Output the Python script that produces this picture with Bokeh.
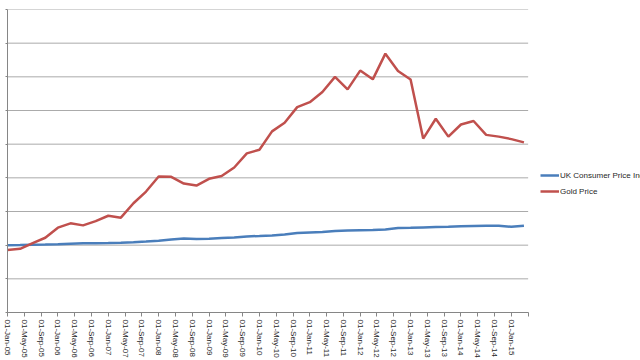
import pandas as pd
from bokeh.plotting import figure
from bokeh.models import Legend, LegendItem, FixedTicker, Range1d, ColumnDataSource
from bokeh.embed import file_html
from bokeh.resources import INLINE

# Quarterly observation dates (Jan-2005 .. Apr-2015)
dates = pd.date_range("2005-01-01", "2015-04-01", freq="QS")

uk_cpi = [100.0, 100.2, 100.7, 101.0, 101.5, 102.2, 102.7, 103.0, 103.3, 103.7,
          104.5, 105.5, 106.7, 108.5, 110.0, 109.0, 109.7, 110.7, 111.5, 113.0,
          113.7, 114.5, 115.7, 118.0, 118.7, 119.4, 121.0, 121.6, 122.0, 122.4,
          123.1, 125.4, 125.8, 126.4, 126.9, 127.3, 128.0, 128.6, 128.8, 128.8,
          127.3, 128.8]

gold = [93.0, 94.5, 103.0, 111.0, 126.0, 132.4, 129.4, 135.8, 143.7, 140.8,
        162.3, 179.6, 202.0, 201.5, 191.5, 188.5, 198.5, 202.6, 215.4, 236.3,
        241.8, 269.0, 281.7, 305.0, 312.4, 327.4, 350.0, 331.4, 359.3, 346.3,
        384.4, 358.7, 346.0, 258.3, 287.7, 261.2, 279.2, 284.4, 263.8, 261.2,
        257.5, 252.7]

tick_labels = ["01-Jan-05", "01-May-05", "01-Sep-05", "01-Jan-06", "01-May-06", "01-Sep-06",
               "01-Jan-07", "01-May-07", "01-Sep-07", "01-Jan-08", "01-May-08", "01-Sep-08",
               "01-Jan-09", "01-May-09", "01-Sep-09", "01-Jan-10", "01-May-10", "01-Sep-10",
               "01-Jan-11", "01-May-11", "01-Sep-11", "01-Jan-12", "01-May-12", "01-Sep-12",
               "01-Jan-13", "01-May-13", "01-Sep-13", "01-Jan-14", "01-May-14", "01-Sep-14",
               "01-Jan-15", ""]

y_ticks = [0, 50, 100, 150, 200, 250, 300, 350, 400, 450]

# month offsets from Jan-2005
months = [(d.year - 2005) * 12 + (d.month - 1) for d in dates]
tick_pos = [4 * k for k in range(len(tick_labels))]
x_end_axis = tick_pos[-1]

src = ColumnDataSource(dict(x=months, cpi=uk_cpi, gold=gold))

FONT = "Liberation Sans"
W, H = 640, 360
BL = 7                               # left border before the y axis
axis_px = 519.0                      # pixel length of the date axis
frame_w = W - BL - 2
x_view_end = x_end_axis * frame_w / axis_px

p = figure(width=W, height=H, output_backend="svg", toolbar_location=None,
           x_range=Range1d(0, x_view_end), y_range=Range1d(0, 450),
           min_border_left=BL, min_border_right=0, min_border_top=9, min_border_bottom=0)
p.outline_line_color = None
p.background_fill_color = "white"

# horizontal gridlines, limited to the date-axis extent
p.xgrid.visible = False
p.ygrid.visible = False
p.segment(x0=[0] * len(y_ticks), x1=[x_end_axis] * len(y_ticks), y0=y_ticks, y1=y_ticks,
          line_color="#ABABAB", line_width=1)

r_cpi = p.line("x", "cpi", source=src, line_color="#4A7EBB", line_width=2.5)
r_gold = p.line("x", "gold", source=src, line_color="#C0504D", line_width=2.5)

# y axis (no labels)
p.yaxis.ticker = FixedTicker(ticks=y_ticks)
p.yaxis.major_label_overrides = {t: "" for t in y_ticks}
p.yaxis.major_label_standoff = 0
p.yaxis.major_tick_out = 2
p.yaxis.major_tick_in = 0
p.yaxis.minor_tick_line_color = None
p.yaxis.axis_line_color = "#868686"
p.yaxis.major_tick_line_color = "#868686"

# x axis
p.xaxis.bounds = (0, x_end_axis)
p.xaxis.ticker = FixedTicker(ticks=tick_pos)
p.xaxis.major_label_overrides = {pos: lab for pos, lab in zip(tick_pos, tick_labels)}
p.xaxis.major_label_orientation = "vertical"
p.xaxis.major_label_text_font = FONT
p.xaxis.major_label_text_font_size = "8px"
p.xaxis.major_label_text_color = "#1F1F1F"
p.xaxis.major_label_standoff = 3
p.xaxis.major_tick_out = 4
p.xaxis.major_tick_in = 0
p.xaxis.minor_tick_line_color = None
p.xaxis.axis_line_color = "#868686"
p.xaxis.major_tick_line_color = "#868686"

legend = Legend(items=[LegendItem(label="UK Consumer Price Index", renderers=[r_cpi]),
                       LegendItem(label="Gold Price", renderers=[r_gold])],
                location=(533, 113), orientation="vertical",
                glyph_width=19, glyph_height=16, label_height=16, spacing=0,
                label_standoff=1, padding=0, margin=0,
                border_line_color=None, background_fill_alpha=0,
                label_text_font=FONT, label_text_font_size="8px",
                label_text_color="#1F1F1F")
p.add_layout(legend)

open("out.html", "w").write(file_html(p, INLINE))
